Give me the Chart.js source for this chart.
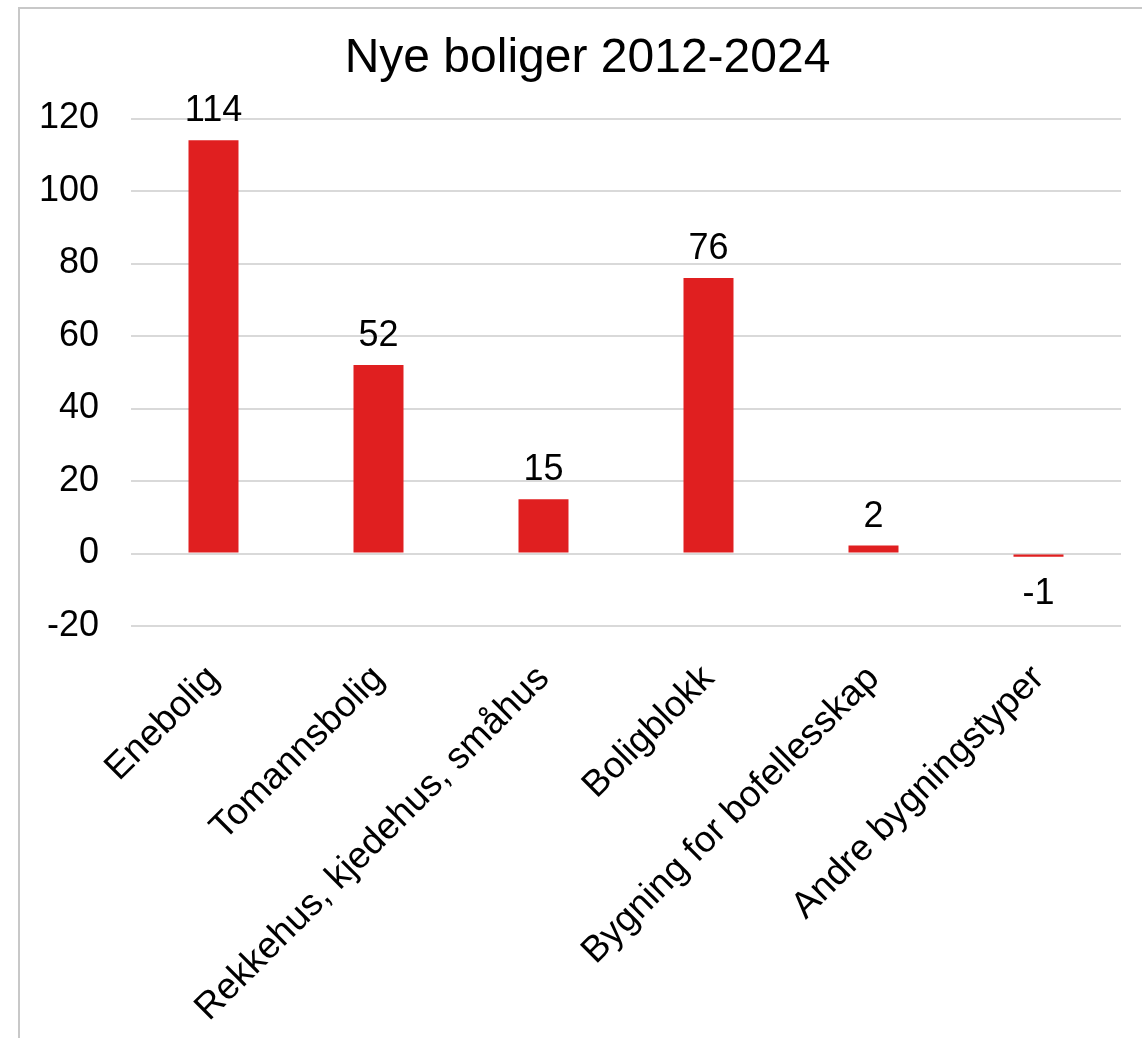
<!DOCTYPE html>
<html>
<head>
<meta charset="utf-8">
<script src="https://cdn.jsdelivr.net/npm/chart.js@4/dist/chart.umd.min.js"></script>
<style>
  html, body { margin: 0; padding: 0; background: #fff; overflow: hidden; }
  #frame { position: absolute; left: 18px; top: 7px; width: 1300px; height: 1200px; border: 2px solid #c8c8c8; }
  #wrap { position: absolute; left: 0; top: 0; width: 1142px; height: 1038px; }
</style>
</head>
<body>
<div id="frame"></div>
<div id="wrap"><canvas id="chart"></canvas></div>
<script>
// categories and values
var categories = ['Enebolig', 'Tomannsbolig', 'Rekkehus, kjedehus, småhus', 'Boligblokk', 'Bygning for bofellesskap', 'Andre bygningstyper'];
var values = [114, 52, 15, 76, 2.2, -0.9];
var yTicks = [-20, 0, 20, 40, 60, 80, 100, 120];
var titleText = 'Nye boliger 2012-2024';

var FONT = '"Liberation Sans", Arial, sans-serif';

// title sits a bit right of the canvas centre, like the original chart frame
var titlePlugin = {
  id: 'titlePlugin',
  afterDraw: function(chart) {
    var ctx = chart.ctx;
    ctx.save();
    ctx.font = '48px ' + FONT;
    ctx.fillStyle = '#000';
    ctx.textAlign = 'center';
    ctx.textBaseline = 'alphabetic';
    ctx.fillText(titleText, 587.5, 72);
    ctx.restore();
  }
};

// draws the numbers above (or below) each bar
var barLabels = {
  id: 'barLabels',
  afterDatasetsDraw: function(chart) {
    var ctx = chart.ctx;
    var meta = chart.getDatasetMeta(0);
    ctx.save();
    ctx.font = '36px ' + FONT;
    ctx.fillStyle = '#000';
    ctx.textAlign = 'center';
    ctx.textBaseline = 'alphabetic';
    meta.data.forEach(function(bar, i) {
      var v = values[i];
      var txt = String(Math.round(v));
      if (v >= 0) {
        ctx.fillText(txt, bar.x, bar.y - 19);
      } else {
        ctx.fillText(txt, bar.x, bar.y + 47);
      }
    });
    ctx.restore();
  }
};

var ctx = document.getElementById('chart').getContext('2d');
var chart = new Chart(ctx, {
  type: 'bar',
  data: {
    labels: categories,
    datasets: [{
      data: values,
      backgroundColor: '#e01f20',
      borderWidth: 0,
      barPercentage: 0.303,
      categoryPercentage: 1
    }]
  },
  plugins: [barLabels, titlePlugin],
  options: {
    responsive: true,
    maintainAspectRatio: false,
    animation: false,
    layout: { padding: { left: 0, right: 21, top: 118.5, bottom: 0 } },
    plugins: {
      legend: { display: false },
      tooltip: { enabled: false },
      title: { display: false }
    },
    scales: {
      x: {
        grid: { display: false },
        border: { display: false },
        ticks: {
          color: '#000',
          font: { family: FONT, size: 37 },
          maxRotation: 45,
          minRotation: 45,
          autoSkip: false,
          padding: 23
        },
        afterFit: function(scale) { scale.height = 412; }
      },
      y: {
        min: -20,
        max: 120,
        afterBuildTicks: function(scale) {
          scale.ticks = yTicks.map(function(v) { return { value: v }; });
        },
        grid: { color: '#d9d9d9', lineWidth: 2, drawTicks: false },
        border: { display: false },
        ticks: {
          color: '#000',
          font: { family: FONT, size: 36 },
          padding: 32
        },
        afterFit: function(scale) { scale.width = 131; }
      }
    }
  }
});
</script>
</body>
</html>
